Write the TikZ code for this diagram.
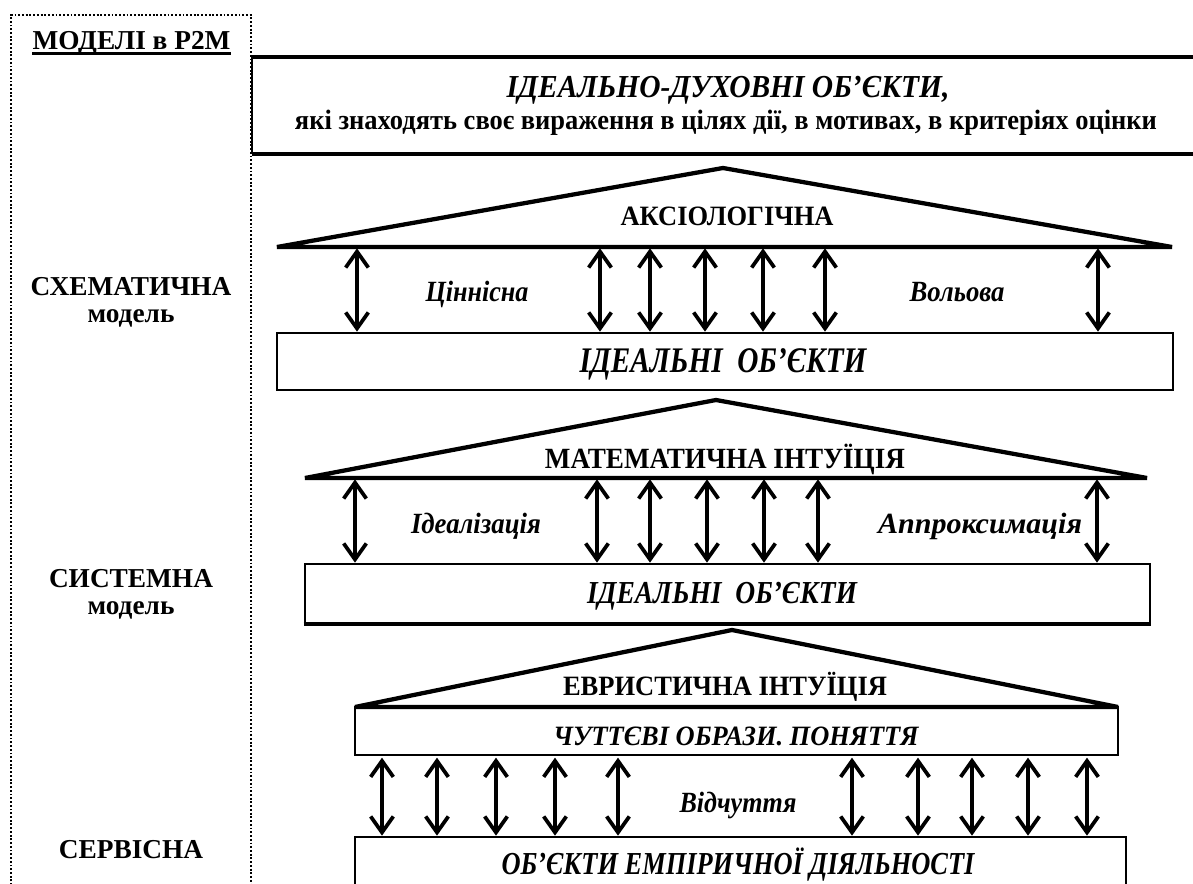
\documentclass[tikz,border=0pt]{standalone}
\usepackage{fontspec}
\setmainfont{Liberation Serif}
\usepackage{graphicx}
\usetikzlibrary{arrows.meta,fit}

\newdimen\pxu \pxu=0.75pt
\newcommand{\fitw}[2]{\resizebox{#1\pxu}{\height}{#2}}

\begin{document}
\begin{tikzpicture}
[   x=0.75pt, y=-0.75pt,
    roof/.style={draw=black, line width=3.2pt, line join=miter, miter limit=2},
    slab/.style={draw=black, line width=2pt, inner sep=0pt},
    dbl/.style={line width=2.8pt, {Straight Barb[length=12pt,width=17pt]}-{Straight Barb[length=12pt,width=17pt]}, shorten <=1pt},
    hd/.style={anchor=base, inner sep=0pt, font=\bfseries\fontsize{#1}{#1}\selectfont},
    it/.style={anchor=base, inner sep=0pt, font=\bfseries\itshape\fontsize{#1}{#1}\selectfont},
]
\useasboundingbox (0,0) rectangle (1193,884);

\draw[line width=1.4pt, dash pattern=on 1.4pt off 1.4pt] (11,900) -- (11,15) -- (251,15) -- (251,900);

\node[hd=20.5] (models) at (131.5,50) {МОДЕЛІ в Р2М};
\draw[line width=2pt] ([yshift=-2.5pt]models.base west) -- ([yshift=-2.5pt]models.base east);

\node[hd=20.5] (sch) at (131,296) {СХЕМАТИЧНА};
\node[hd=20.5] (schm) at (131,323) {модель};
\node[hd=20.5] (sys) at (131,587) {СИСТЕМНА};
\node[hd=20.5] (sysm) at (131,614) {модель};
\node[hd=20.5] (srv) at (131,858) {СЕРВІСНА};

\coordinate (dtl) at (252,57);
\coordinate (dtr) at (1200,57);
\coordinate (dbl) at (252,154);
\coordinate (dbr) at (1200,154);
\draw[line width=3pt] (dtr) -- (dtl);
\draw[line width=1.8pt] (dtl) -- (dbl);
\draw[line width=3pt] (dbl) -- (dbr);
\node[it=24] (dukh) at (728,98) {\fitw{443}{ІДЕАЛЬНО-ДУХОВНІ ОБ’ЄКТИ,}};
\node[hd=21] (dukhs) at (726,130) {\fitw{862}{які знаходять своє вираження в цілях дії, в мотивах, в критеріях оцінки}};

\coordinate (ax1l) at (277,247);
\coordinate (ax1t) at (723,168);
\coordinate (ax1r) at (1172,247);
\draw[roof] (ax1l) -- (ax1t) -- (ax1r) -- cycle;
\node[hd=21] (axio) at (727,226) {\fitw{213}{АКСІОЛОГІЧНА}};
\node[slab, fit={(277,333) (1173,390)}] (obj1) {};
\node[it=27] (obj1t) at (723,373) {\fitw{287}{ІДЕАЛЬНІ\ \ ОБ’ЄКТИ}};
\foreach \x in {357,600,650,705,763,825,1098}
{   \coordinate (p) at (\x,0);
    \draw[dbl] (ax1l -| p) -- (obj1.north -| p);
}
\node[it=22] (tsin) at (477,302) {\fitw{103}{Ціннісна}};
\node[it=22] (vol) at (957,302) {\fitw{95}{Вольова}};

\coordinate (ax2l) at (305,478);
\coordinate (ax2t) at (716,400);
\coordinate (ax2r) at (1147,478);
\draw[roof] (ax2l) -- (ax2t) -- (ax2r) -- cycle;
\node[hd=22] (math) at (725,468) {\fitw{360}{МАТЕМАТИЧНА ІНТУЇЦІЯ}};
\node[slab, fit={(305,564) (1150,623)}] (obj2) {};
\draw[line width=3pt] (obj2.south west) -- (obj2.south east);
\node[it=24] (obj2t) at (722,603) {\fitw{270}{ІДЕАЛЬНІ\ \ ОБ’ЄКТИ}};
\foreach \x in {355,597,650,707,764,818,1097}
{   \coordinate (p) at (\x,0);
    \draw[dbl] (ax2l -| p) -- (obj2.north -| p);
}
\node[it=22] (ideal) at (476,533) {\fitw{130}{Ідеалізація}};
\node[it=22] (approx) at (980,533) {\fitw{204}{Аппроксимація}};

\coordinate (ax3l) at (355,707);
\coordinate (ax3t) at (732,630);
\coordinate (ax3r) at (1118,707);
\node[slab, fit={(355,707) (1118,755)}] (obr) {};
\draw[roof] (ax3l) -- (ax3t) -- (ax3r) -- cycle;
\node[hd=21] (evr) at (725,695) {\fitw{324}{ЕВРИСТИЧНА ІНТУЇЦІЯ}};
\node[it=21] (obrt) at (736,745) {\fitw{365}{ЧУТТЄВІ ОБРАЗИ. ПОНЯТТЯ}};
\node[slab, fit={(355,837) (1126,905)}] (emp) {};
\node[it=24] (empt) at (738,874) {\fitw{473}{ОБ’ЄКТИ ЕМПІРИЧНОЇ ДІЯЛЬНОСТІ}};
\foreach \x in {382,437,496,555,618,852,918,972,1028,1087}
{   \coordinate (p) at (\x,0);
    \draw[dbl] (obr.south -| p) -- (emp.north -| p);
}
\node[it=22] (vidch) at (738,812) {\fitw{117}{Відчуття}};

\end{tikzpicture}
\end{document}
